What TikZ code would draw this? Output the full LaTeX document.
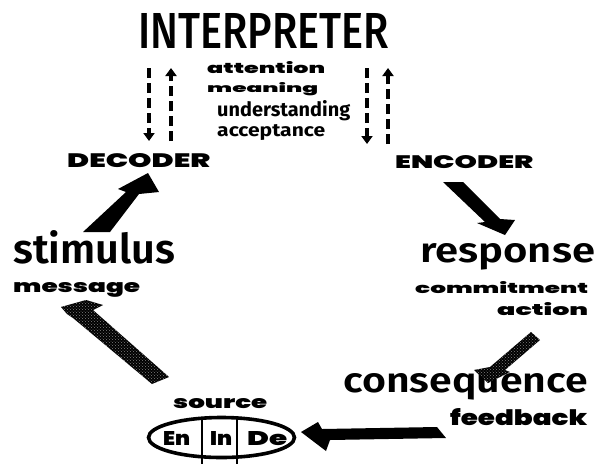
\documentclass[tikz,border=0pt]{standalone}
\usepackage{graphicx}
\usepackage{fontspec}
\setmainfont{Fira Sans}
\newfontfamily\heavy{Poppins Black}
\newfontfamily\medfont{Fira Sans Medium}
\newfontfamily\semifont{Fira Sans SemiBold}
\usetikzlibrary{arrows.meta,patterns,shapes.geometric}
% scale a word to an exact width and height (above the baseline)
\newcommand\fitword[3]{\resizebox{#1pt}{#2pt}{#3}}

\begin{document}
\begin{tikzpicture}[x=1pt,y=-1pt,
  word/.style={inner sep=0pt, anchor=base west},
  heavyword/.style={word, font=\heavy},
  bigword/.style={word, font=\semifont},
  talk/.style={line width=3.8pt, dash pattern=on 10pt off 5pt,
               -{Triangle[width=11pt,length=8pt]}},
  solidarrow/.style={fill=black},
  speckled/.style={fill=black, postaction={pattern=crosshatch dots, pattern color=black!50}},
]
\useasboundingbox[fill=white] (0,0) rectangle (599,464);

% ---- words ----
\node[word, font=\medfont] (interp) at (138,48) {\fitword{251}{35}{INTERPRETER}};
\node[heavyword] (attn) at (207,73) {\fitword{118}{12}{attention}};
\node[heavyword] (mean) at (207,92) {\fitword{111}{10}{meaning}};
\node[word,font=\bfseries] (und) at (217,116) {\fitword{133}{16}{understanding}};
\node[word,font=\bfseries] (acc) at (217,136) {\fitword{108}{12}{acceptance}};
\node[heavyword] (dec) at (67,167) {\fitword{143}{14}{DECODER}};
\node[heavyword] (enc) at (395,168) {\fitword{138}{13}{ENCODER}};
\node[bigword] (stim) at (13,263) {\fitword{162}{33}{stimulus}};
\node[heavyword] (msg) at (13,292) {\fitword{127}{10}{message}};
\node[bigword] (resp) at (420,262) {\fitword{175}{19}{response}};
\node[heavyword] (commit) at (415,293) {\fitword{173}{12}{commitment}};
\node[heavyword] (act) at (497,315) {\fitword{91}{13}{action}};
\node[bigword] (cons) at (343,392) {\fitword{245}{19}{consequence}};
\node[heavyword] (fb) at (450,425) {\fitword{137}{17}{feedback}};
\node[heavyword] (src) at (173,408) {\fitword{94}{10}{source}};

% ---- source: encoder / interpreter / decoder in one ----
\node[draw, ellipse, line width=3.6pt, minimum width=146pt, minimum height=40pt,
      inner sep=0pt] (self) at (221.5,437.5) {};
\coordinate (cutA) at (202,417.7);
\coordinate (cutB) at (237,417.5);
\coordinate (cutAend) at (202,464);
\coordinate (cutBend) at (237,464);
\draw[line width=2.6pt] (cutA) -- (cutAend);
\draw[line width=2.6pt] (cutB) -- (cutBend);
\node[heavyword] (en) at (163,445) {\fitword{27}{14}{En}};
\node[heavyword] (in) at (210,445) {\fitword{22}{14}{In}};
\node[heavyword] (de) at (247,445) {\fitword{40}{14}{De}};

% ---- dashed links between interpreter and the coders ----
\coordinate (lTop1) at (149,68);  \coordinate (lBot1) at (149,141);
\coordinate (lTop2) at (171,68);  \coordinate (lBot2) at (171,141);
\coordinate (rTop1) at (367,68);  \coordinate (rBot1) at (367,144);
\coordinate (rTop2) at (388,68);  \coordinate (rBot2) at (388,144);
\draw[talk] (lTop1) -- (lBot1);
\draw[talk] (lBot2) -- (lTop2);
\draw[talk] (rTop1) -- (rBot1);
\draw[talk] (rBot2) -- (rTop2);

% ---- stimulus -> decoder ----
\fill[solidarrow] (83,232) -- (110,232) -- (139,194) -- (159,192) -- (148,173)
  -- (118,189) -- (126,192) -- cycle;
% ---- encoder -> response ----
\fill[solidarrow] (443,182) -- (463,182) -- (500,219) -- (515,220) -- (505,235)
  -- (477,223) -- (485,222) -- cycle;
% ---- source -> message ----
\path[speckled] (61,307) -- (86,300) -- (103,305) -- (93,310) -- (169,377)
  -- (152,384) -- (73,318) -- (67,314) -- cycle;
% ---- response -> consequence ----
\path[speckled] (531,332) -- (540,340) -- (505,370) -- (510,372) -- (488,383)
  -- (474,370) -- (490,367) -- cycle;
% ---- feedback -> source ----
\fill[solidarrow] (301,432) -- (318,422) -- (322,429) -- (437,427) -- (446,438)
  -- (330,440) -- (326,451) -- cycle;
\end{tikzpicture}
\end{document}
